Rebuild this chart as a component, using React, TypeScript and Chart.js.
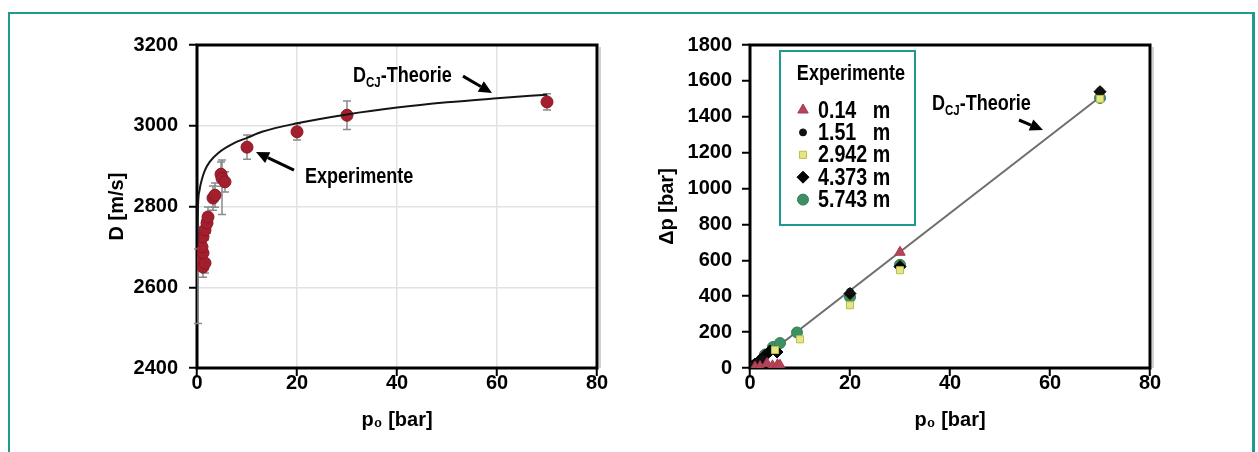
import React, { useEffect, useRef } from 'react';
import { Chart, registerables } from 'chart.js';
import { drawPoint } from 'chart.js/helpers';

Chart.register(...registerables);

const FONT = "'Liberation Sans', Arial, sans-serif";
const TEAL = '#1f9a8e';
const SX = 0.82; // horizontal condensing for annotation text

// ---------- left chart: D over p0 ----------
const leftXTicks = [0, 20, 40, 60, 80];
const leftYTicks = [2400, 2600, 2800, 3000, 3200];
const theoryP = [0.05, 0.2, 0.5, 1, 1.6, 2.5, 4.2, 7.6, 10, 13, 20, 30, 40, 50, 60, 70];
const theoryD = [2700, 2800, 2840, 2868, 2890, 2910, 2932, 2958, 2970, 2985, 3006, 3028, 3045, 3058, 3068, 3077];
const expP = [0.2, 1.2, 1.6, 1.2, 1.0, 1.2, 1.6, 2.0, 2.2, 3.2, 3.6, 4.8, 5.0, 5.6, 10, 20, 30, 70];
const expD = [2665, 2650, 2660, 2685, 2700, 2725, 2742, 2759, 2774, 2821, 2828, 2880, 2870, 2861, 2947, 2985, 3026, 3059];
const expErrLow = [155, 25, 25, 25, 25, 25, 25, 25, 25, 30, 30, 30, 90, 25, 30, 20, 35, 20];
const expErrHigh = [30, 25, 25, 25, 25, 25, 25, 25, 25, 30, 30, 30, 45, 25, 30, 20, 35, 20];

// ---------- right chart: dp over p0 ----------
const rightXTicks = [0, 20, 40, 60, 80];
const rightYTicks = [0, 200, 400, 600, 800, 1000, 1200, 1400, 1600, 1800];
const lineP = [0, 70];
const lineDp = [0, 1510];
const s014P = [1, 2, 3.4, 4.5, 5.5, 6, 30];
const s014Dp = [5, 8, 25, 12, 18, 15, 645];
const s151P = [0.3, 0.8, 1.5, 2.5, 20, 70];
const s151Dp = [10, 18, 30, 50, 425, 1545];
const s2942P = [5, 10, 20, 30, 70];
const s2942Dp = [100, 160, 350, 545, 1500];
const s4373P = [0.5, 1, 2, 3, 4, 5.4, 20, 30, 70];
const s4373Dp = [12, 22, 45, 70, 95, 89, 415, 565, 1540];
const s5743P = [3, 4.6, 6, 9.4, 20, 30, 70];
const s5743Dp = [75, 117, 139, 198, 395, 575, 1505];
const legendLabels = ['0.14   m', '1.51   m', '2.942 m', '4.373 m', '5.743 m'];

const pts = (xs: number[], ys: number[]) => xs.map((x, i) => ({ x, y: ys[i] }));

function condText(ctx: CanvasRenderingContext2D, text: string, x: number, y: number, size: number, align: CanvasTextAlign = 'left') {
  ctx.save();
  ctx.translate(x, y);
  ctx.scale(SX, 1);
  ctx.font = `bold ${size}px ${FONT}`;
  ctx.textAlign = align;
  ctx.fillText(text, 0, 0);
  const w = ctx.measureText(text).width * SX;
  ctx.restore();
  return w;
}

function drawDcj(ctx: CanvasRenderingContext2D, x: number, y: number) {
  ctx.fillStyle = '#000';
  ctx.textBaseline = 'alphabetic';
  let w = condText(ctx, 'D', x, y, 22);
  w += condText(ctx, 'CJ', x + w, y + 5, 14);
  condText(ctx, '-Theorie', x + w, y, 22);
}

function drawArrow(ctx: CanvasRenderingContext2D, x1: number, y1: number, x2: number, y2: number) {
  const ang = Math.atan2(y2 - y1, x2 - x1);
  const hl = 13, hw = 6;
  const bx = x2 - hl * Math.cos(ang), by = y2 - hl * Math.sin(ang);
  ctx.strokeStyle = '#000';
  ctx.fillStyle = '#000';
  ctx.lineWidth = 3;
  ctx.beginPath();
  ctx.moveTo(x1, y1);
  ctx.lineTo(bx, by);
  ctx.stroke();
  ctx.beginPath();
  ctx.moveTo(x2, y2);
  ctx.lineTo(bx + hw * Math.sin(ang), by - hw * Math.cos(ang));
  ctx.lineTo(bx - hw * Math.sin(ang), by + hw * Math.cos(ang));
  ctx.closePath();
  ctx.fill();
}

const framePlugin = {
  id: 'frame',
  beforeDatasetsDraw(chart: any) {
    const { ctx, chartArea: a } = chart;
    ctx.save();
    ctx.strokeStyle = 'rgba(0,0,0,0.18)';
    ctx.lineWidth = 2;
    ctx.beginPath();
    ctx.moveTo(a.right + 3, a.top + 2);
    ctx.lineTo(a.right + 3, a.bottom);
    ctx.stroke();
    ctx.strokeStyle = '#000';
    ctx.lineWidth = 3;
    ctx.strokeRect(a.left, a.top, a.right - a.left, a.bottom - a.top);
    ctx.restore();
  },
};

const errorBarPlugin = {
  id: 'errbars',
  beforeDatasetsDraw(chart: any) {
    const { ctx } = chart;
    const xs = chart.scales.x, ys = chart.scales.y;
    chart.data.datasets.forEach((ds: any) => {
      if (!ds.errLow) return;
      ctx.save();
      ctx.strokeStyle = '#8a8a8a';
      ctx.lineWidth = 1.5;
      ds.data.forEach((p: any, i: number) => {
        const x = xs.getPixelForValue(p.x);
        const y1 = ys.getPixelForValue(p.y - ds.errLow[i]);
        const y2 = ys.getPixelForValue(p.y + ds.errHigh[i]);
        ctx.beginPath();
        ctx.moveTo(x, y1); ctx.lineTo(x, y2);
        ctx.moveTo(x - 4, y1); ctx.lineTo(x + 4, y1);
        ctx.moveTo(x - 4, y2); ctx.lineTo(x + 4, y2);
        ctx.stroke();
      });
      ctx.restore();
    });
  },
};

function notesPlugin(notes: { dcj: number[]; arrows: number[][]; texts: { t: string; at: number[] }[] }) {
  return {
    id: 'notes',
    afterDatasetsDraw(chart: any) {
      const { ctx } = chart;
      const xs = chart.scales.x, ys = chart.scales.y;
      const px = (v: number) => xs.getPixelForValue(v);
      const py = (v: number) => ys.getPixelForValue(v);
      ctx.save();
      drawDcj(ctx, px(notes.dcj[0]), py(notes.dcj[1]));
      notes.texts.forEach((t) => {
        ctx.fillStyle = '#000';
        ctx.textBaseline = 'alphabetic';
        condText(ctx, t.t, px(t.at[0]), py(t.at[1]), 22);
      });
      notes.arrows.forEach((a) => drawArrow(ctx, px(a[0]), py(a[1]), px(a[2]), py(a[3])));
      ctx.restore();
    },
  };
}

const boxLegendPlugin = {
  id: 'boxLegend',
  afterDatasetsDraw(chart: any) {
    const { ctx, chartArea: a } = chart;
    const bx = a.left + 30, by = a.top + 6, bw = 135, bh = 174;
    ctx.save();
    ctx.fillStyle = '#fff';
    ctx.fillRect(bx, by, bw, bh);
    ctx.strokeStyle = TEAL;
    ctx.lineWidth = 2;
    ctx.strokeRect(bx, by, bw, bh);
    ctx.fillStyle = '#000';
    ctx.textBaseline = 'middle';
    condText(ctx, 'Experimente', bx + 71, a.top + 29, 22, 'center');
    const items = chart.data.datasets.filter((d: any) => d.inLegend);
    items.forEach((d: any, i: number) => {
      const cy = a.top + 65 + i * 22.4;
      ctx.fillStyle = d.backgroundColor;
      ctx.strokeStyle = d.borderColor;
      ctx.lineWidth = d.borderWidth;
      drawPoint(ctx, { pointStyle: d.pointStyle, radius: d.pointRadius, rotation: 0, borderWidth: d.borderWidth }, a.left + 53, cy);
      ctx.fillStyle = '#000';
      ctx.textBaseline = 'middle';
      condText(ctx, d.label, a.left + 68, cy + 1, 24);
    });
    ctx.restore();
  },
};

const tickFont = { family: FONT, size: 20, weight: 'bold' as const, lineHeight: 1 };

function axes(xTicks: number[], yTicks: number[], yTitle: string, yTitlePad: number, yTickPad: number, grid: boolean) {
  return {
    x: {
      type: 'linear',
      min: xTicks[0],
      max: xTicks[xTicks.length - 1],
      afterBuildTicks: (s: any) => { s.ticks = xTicks.map((v) => ({ value: v })); },
      afterFit: (s: any) => { s.height = 62; },
      ticks: { font: tickFont, color: '#000', padding: -3, callback: (v: any) => String(v) },
      grid: { color: '#e2e2e2', lineWidth: 1.5, drawOnChartArea: grid, tickColor: '#000', tickLength: 8, tickWidth: 2 },
      border: { display: false },
      title: { display: true, text: 'p₀ [bar]', color: '#000', font: tickFont, padding: { top: 0, bottom: 0 } },
    },
    y: {
      type: 'linear',
      min: yTicks[0],
      max: yTicks[yTicks.length - 1],
      afterBuildTicks: (s: any) => { s.ticks = yTicks.map((v) => ({ value: v })); },
      afterFit: (s: any) => { s.width = 100; },
      ticks: { font: tickFont, color: '#000', padding: yTickPad, callback: (v: any) => String(v) },
      grid: { color: '#e2e2e2', lineWidth: 1.5, drawOnChartArea: grid, tickColor: '#000', tickLength: 8, tickWidth: 2 },
      border: { display: false },
      title: { display: true, text: yTitle, color: '#000', font: tickFont, padding: { top: yTitlePad, bottom: 0 } },
    },
  };
}

function leftConfig(): any {
  return {
    type: 'scatter',
    data: {
      datasets: [
        {
          label: 'DCJ-Theorie',
          data: pts(theoryP, theoryD),
          showLine: true,
          borderColor: '#151515',
          borderWidth: 2,
          pointRadius: 0,
          cubicInterpolationMode: 'monotone',
          order: 1,
        },
        {
          label: 'Experimente',
          data: pts(expP, expD),
          backgroundColor: '#a31f2d',
          borderColor: '#8a1824',
          borderWidth: 1,
          pointRadius: 6,
          errLow: expErrLow,
          errHigh: expErrHigh,
          order: 2,
        },
      ],
    },
    options: {
      responsive: false,
      animation: false,
      layout: { padding: { left: 97, right: 43, top: 45, bottom: 22 } },
      plugins: { legend: { display: false }, tooltip: { enabled: false } },
      scales: axes(leftXTicks, leftYTicks, 'D [m/s]', 10, 11, true),
    },
    plugins: [
      framePlugin,
      errorBarPlugin,
      notesPlugin({
        dcj: [31.2, 3108],
        texts: [{ t: 'Experimente', at: [21.6, 2858] }],
        arrows: [[53.2, 3123, 59, 3081], [19.4, 2890, 11.8, 2935]],
      }),
    ],
  };
}

function rightConfig(): any {
  const mk = (label: string, xs: number[], ys: number[], style: string, r: number, bg: string, bc: string) => ({
    label, data: pts(xs, ys), pointStyle: style, pointRadius: r, backgroundColor: bg, borderColor: bc, borderWidth: 1, inLegend: true, order: 1,
  });
  return {
    type: 'scatter',
    data: {
      datasets: [
        {
          label: 'DCJ-Theorie',
          data: pts(lineP, lineDp),
          showLine: true,
          borderColor: '#6e6e6e',
          borderWidth: 2,
          pointRadius: 0,
          order: 5,
        },
        mk(legendLabels[0], s014P, s014Dp, 'triangle', 6, '#b4445a', '#a33a4e'),
        mk(legendLabels[1], s151P, s151Dp, 'circle', 3.5, '#111111', '#111111'),
        mk(legendLabels[2], s2942P, s2942Dp, 'rect', 5, '#e6e48e', '#b8c03a'),
        mk(legendLabels[3], s4373P, s4373Dp, 'rectRot', 6, '#050505', '#050505'),
        mk(legendLabels[4], s5743P, s5743Dp, 'circle', 5.5, '#3f8f64', '#357f57'),
      ],
    },
    options: {
      responsive: false,
      animation: false,
      layout: { padding: { left: 10, right: 108, top: 45, bottom: 22 } },
      plugins: { legend: { display: false }, tooltip: { enabled: false } },
      scales: axes(rightXTicks, rightYTicks, 'Δp [bar]', 7, 10, false),
    },
    plugins: [
      framePlugin,
      notesPlugin({
        dcj: [36.4, 1438],
        texts: [],
        arrows: [[53.8, 1382, 58.6, 1326]],
      }),
      boxLegendPlugin,
    ],
  };
}

function ChartCanvas({ make, left, width }: { make: () => any; left: number; width: number }) {
  const ref = useRef<HTMLCanvasElement | null>(null);
  useEffect(() => {
    if (!ref.current) return;
    const chart = new Chart(ref.current, make());
    return () => chart.destroy();
  }, []);
  return (
    <canvas
      ref={ref}
      width={width}
      height={452}
      style={{ position: 'absolute', left, top: 0, width, height: 452, display: 'block' }}
    />
  );
}

export default function App() {
  return (
    <div style={{ position: 'fixed', left: 0, top: 0, width: 1258, height: 452, background: '#fff', overflow: 'hidden' }}>
      <div
        style={{
          position: 'absolute',
          left: 8,
          top: 12,
          width: 1247,
          height: 500,
          boxSizing: 'border-box',
          borderTop: `2px solid ${TEAL}`,
          borderLeft: `2px solid ${TEAL}`,
          borderRight: `3px solid ${TEAL}`,
        }}
      />
      <ChartCanvas make={leftConfig} left={0} width={640} />
      <ChartCanvas make={rightConfig} left={640} width={618} />
    </div>
  );
}
